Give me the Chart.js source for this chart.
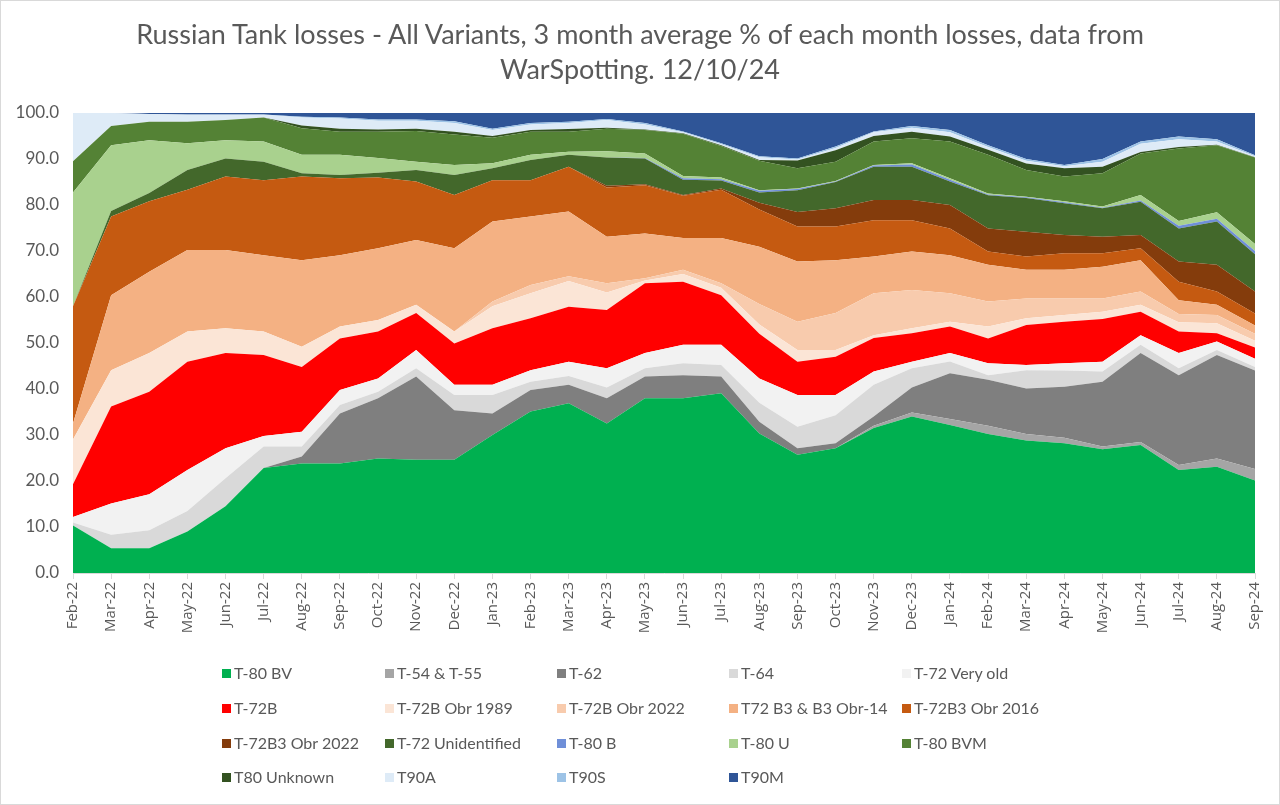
<!DOCTYPE html>
<html>
<head>
<meta charset="utf-8">
<script src="https://cdn.jsdelivr.net/npm/chart.js@4.4.1/dist/chart.umd.min.js"></script>
<style>
html,body{margin:0;padding:0;background:#fff;}
#wrap{position:relative;width:1280px;height:805px;overflow:hidden;font-family:Lato,"Open Sans",sans-serif;background:#fff;}
#frame{position:absolute;left:0;top:0;width:1278px;height:803px;border:1px solid #d9d9d9;pointer-events:none;}
#title{position:absolute;left:0;top:16px;width:1280px;text-align:center;color:#595959;font-size:27px;line-height:35px;z-index:2;}
#chart{position:absolute;left:0;top:0;}
.li{position:absolute;font-size:16px;color:#595959;white-space:nowrap;line-height:20px;z-index:2;}
.li span{display:inline-block;width:9px;height:9px;margin-right:3px;vertical-align:middle;position:relative;top:-1px;}
</style>
</head>
<body>
<div id="wrap">
  <canvas id="chart" width="1280" height="805"></canvas>
  <div id="title">Russian Tank losses - All Variants, 3 month average % of each month losses, data from<br>WarSpotting. 12/10/24</div>
  <div id="legend"></div>
  <div id="frame"></div>
</div>
<script>
// ---- categories ----
const months = ['Feb-22','Mar-22','Apr-22','May-22','Jun-22','Jul-22','Aug-22','Sep-22','Oct-22','Nov-22','Dec-22',
  'Jan-23','Feb-23','Mar-23','Apr-23','May-23','Jun-23','Jul-23','Aug-23','Sep-23','Oct-23','Nov-23','Dec-23',
  'Jan-24','Feb-24','Mar-24','Apr-24','May-24','Jun-24','Jul-24','Aug-24','Sep-24'];

// ---- series values (% of each month's losses, 3-month average) ----
const t80bv    = [10.3,5.4,5.4,9.0,14.5,22.8,23.8,23.8,24.9,24.6,24.6,30.0,35.1,36.9,32.5,38.0,38.0,39.1,30.3,25.7,27.1,31.5,34.0,32.2,30.2,28.8,28.2,26.9,27.8,22.4,23.1,20.1];
const t54t55   = [0,0,0,0,0,0,0,0,0,0,0,0,0,0,0,0,0,0,0,0,0,0.5,0.9,1.3,1.8,1.4,1.2,0.6,0.7,1.1,1.8,2.5];
const t62      = [0,0,0,0,0,0,1.5,10.9,13.1,18.1,10.8,4.7,4.7,4.0,5.5,4.7,5.0,3.6,2.6,1.4,1.1,2.0,5.4,9.9,10.0,9.9,11.1,14.1,19.3,19.5,22.5,21.4];
const t64      = [0.7,2.9,3.9,4.5,6.1,4.7,2.2,1.8,1.4,1.8,3.3,4.0,1.8,1.9,2.3,1.8,2.6,2.5,4.1,4.7,6.1,6.9,4.2,2.6,1.0,4.0,3.5,2.2,1.8,1.5,1.1,0.8];
const t72old   = [1.2,6.8,7.8,8.9,6.5,2.3,3.2,3.3,2.9,4.0,2.2,2.2,2.5,3.1,4.2,3.3,4.0,4.4,5.3,6.9,4.4,2.9,1.4,1.8,2.6,1.1,1.6,2.1,2.1,3.3,1.8,1.8];
const t72b     = [7.1,21.1,22.3,23.5,20.7,17.6,14.1,11.2,10.2,8.0,9.0,12.3,11.3,12.0,12.7,15.2,13.7,10.8,9.7,7.2,8.3,7.3,6.2,5.8,5.4,8.7,9.0,9.3,5.1,4.7,1.8,2.4];
const t72b1989 = [9.7,7.9,8.4,6.6,5.4,5.1,4.4,2.6,2.5,1.8,2.6,4.8,5.4,5.6,3.8,0.6,1.7,1.6,2.0,2.6,1.5,0.6,1.1,1.0,2.6,1.5,1.5,1.6,1.5,2.0,2.2,1.5];
const t72b2022 = [0,0,0,0,0,0,0,0,0,0,0,1.0,1.8,1.0,2.0,0.5,0.9,1.0,4.5,6.1,8.0,9.1,8.3,6.2,5.4,4.3,3.6,2.9,2.9,1.8,1.8,1.5];
const t72b3    = [3.5,16.3,17.7,17.7,17.0,16.6,18.8,15.5,15.6,14.1,18.1,17.4,14.9,14.1,10.1,9.7,6.9,9.8,12.4,13.1,11.5,8.0,8.4,8.3,8.0,6.2,6.2,6.9,6.8,3.0,2.2,1.8];
const t72b3o16 = [25.5,17.1,15.3,13.1,16.0,16.3,18.2,16.7,15.4,12.7,11.6,9.0,7.9,9.7,10.7,10.5,9.2,10.5,8.1,7.6,7.3,7.9,6.8,5.8,2.9,2.9,3.6,2.9,2.6,4.0,2.9,2.6];
const t72b3o22 = [0,0,0,0,0,0,0,0,0,0,0,0,0,0,0.4,0.2,0.2,0.3,1.5,3.2,4.0,4.4,4.4,5.1,5.0,5.4,4.0,3.6,2.9,4.4,5.8,4.8];
const t72unid  = [0,1.2,1.8,4.3,3.9,4.0,0.7,0.7,1.0,2.5,4.3,2.6,4.4,2.6,6.1,5.6,3.3,1.7,2.2,4.7,5.7,7.2,7.2,5.1,7.2,7.3,6.9,6.2,7.2,7.2,9.4,8.1];
const t80b     = [0,0,0,0,0,0,0,0,0,0,0,0,0,0,0,0.1,0.3,0.3,0.4,0.3,0.1,0.3,0.5,0.4,0.2,0.2,0.2,0.1,0.3,0.6,0.6,0.7];
const t80u     = [24.7,14.3,11.5,5.8,4.0,4.4,4.0,4.4,3.2,1.8,2.2,1.1,1.1,0.7,1.4,1.0,0.5,0.4,0.1,0.1,0.1,0.1,0.3,0.3,0.2,0.1,0.2,0.3,1.2,1.0,1.4,1.5];
const t80bvm   = [6.8,4.2,4.0,4.7,4.4,5.2,5.8,5.0,5.7,6.7,6.6,5.5,5.0,4.3,4.9,5.1,9.2,6.8,6.4,4.4,4.2,5.1,5.4,8.0,8.4,5.8,5.4,7.2,9.0,15.8,14.6,18.8];
const t80unk   = [0,0,0,0,0,0,0.6,0.7,0.5,0.5,0.6,0.4,0.4,0.6,0.2,0.1,0.1,0.2,0.2,1.7,2.5,1.2,1.4,1.1,1.1,1.4,1.8,1.4,0.3,0.3,0.1,0.1];
const t90a     = [10.5,2.8,1.7,1.5,1.1,0.6,1.7,2.2,1.9,1.7,1.9,1.3,1.2,1.3,1.7,1.1,0.2,0.2,0.6,0.2,0.5,0.8,0.9,0.9,0.6,0.6,0.4,1.1,1.8,1.7,0.7,0.2];
const t90s     = [0,0,0,0.1,0.1,0.1,0.2,0.2,0.3,0.3,0.4,0.3,0.3,0.3,0.2,0.3,0.2,0.2,0.2,0.2,0.3,0.2,0.4,0.5,0.4,0.4,0.3,0.6,0.5,0.6,0.5,0.2];
const t90m     = [0,0,0.2,0.3,0.3,0.3,0.8,1.0,1.4,1.4,1.8,3.4,2.2,1.9,1.3,2.2,4.0,6.6,9.4,9.9,7.3,4.0,2.8,3.7,7.0,10.0,11.3,10.0,6.2,5.1,5.7,9.2];

// ---- axis ticks ----
const yTicks = [0,10,20,30,40,50,60,70,80,90,100];

// ---- series names (legend order = stacking order) ----
const seriesNames = ['T-80 BV','T-54 & T-55','T-62','T-64','T-72 Very old','T-72B','T-72B Obr 1989','T-72B Obr 2022',
  'T72 B3 & B3 Obr-14','T-72B3 Obr 2016','T-72B3 Obr 2022','T-72 Unidentified','T-80 B','T-80 U','T-80 BVM',
  'T80 Unknown','T90A','T90S','T90M'];
const seriesData = [t80bv,t54t55,t62,t64,t72old,t72b,t72b1989,t72b2022,t72b3,t72b3o16,t72b3o22,t72unid,t80b,t80u,t80bvm,t80unk,t90a,t90s,t90m];
const seriesColors = ['#00b050','#a5a5a5','#7f7f7f','#d9d9d9','#f2f2f2','#ff0000','#fbe5d6','#f8cbad',
  '#f4b183','#c55a11','#843c0c','#43682b','#6f8fd8','#a9d18e','#548235','#335221','#deebf7','#9dc3e6','#2f5597'];

const datasets = seriesNames.map((n,i)=>({
  label:n, data:seriesData[i], backgroundColor:seriesColors[i], borderColor:'rgba(0,0,0,0)',
  borderWidth:0, pointRadius:0, pointHoverRadius:0, tension:0, fill: i===0 ? 'origin' : '-1'
}));

new Chart(document.getElementById('chart'), {
  type:'line',
  data:{labels:months, datasets:datasets},
  options:{
    responsive:false, animation:false,
    layout:{padding:{left:0,right:25,top:113,bottom:152}},
    plugins:{legend:{display:false}, title:{display:false}, tooltip:{enabled:false}},
    scales:{
      x:{
        offset:false,
        grid:{display:true, drawOnChartArea:false, drawTicks:true, tickLength:6, color:'#d9d9d9'},
        border:{display:true, color:'#d9d9d9'},
        ticks:{minRotation:90, maxRotation:90, autoSkip:false, padding:3, color:'#595959', font:{family:'Open Sans', size:15}},
        afterFit(s){ s.height = 80; }
      },
      y:{
        stacked:true, min:0, max:100,
        afterBuildTicks(s){ s.ticks = yTicks.map(v=>({value:v})); },
        ticks:{callback:v=>Number(v).toFixed(1), padding:14, color:'#595959', font:{family:'Lato', size:17}},
        grid:{display:false, drawTicks:false},
        border:{display:false},
        afterFit(s){ s.width = 73; }
      }
    }
  }
});

// ---- legend (5 columns x 4 rows) ----
const legCols = [222,385,557,729,902];
const legRows = [663,698,733,767];
const leg = document.getElementById('legend');
seriesNames.forEach((n,i)=>{
  const d = document.createElement('div');
  d.className='li';
  d.style.left = legCols[i%5]+'px';
  d.style.top = legRows[Math.floor(i/5)]+'px';
  d.innerHTML = '<span style="background:'+seriesColors[i]+'"></span>'+n.replace(/&/g,'&amp;');
  leg.appendChild(d);
});
</script>
</body>
</html>
